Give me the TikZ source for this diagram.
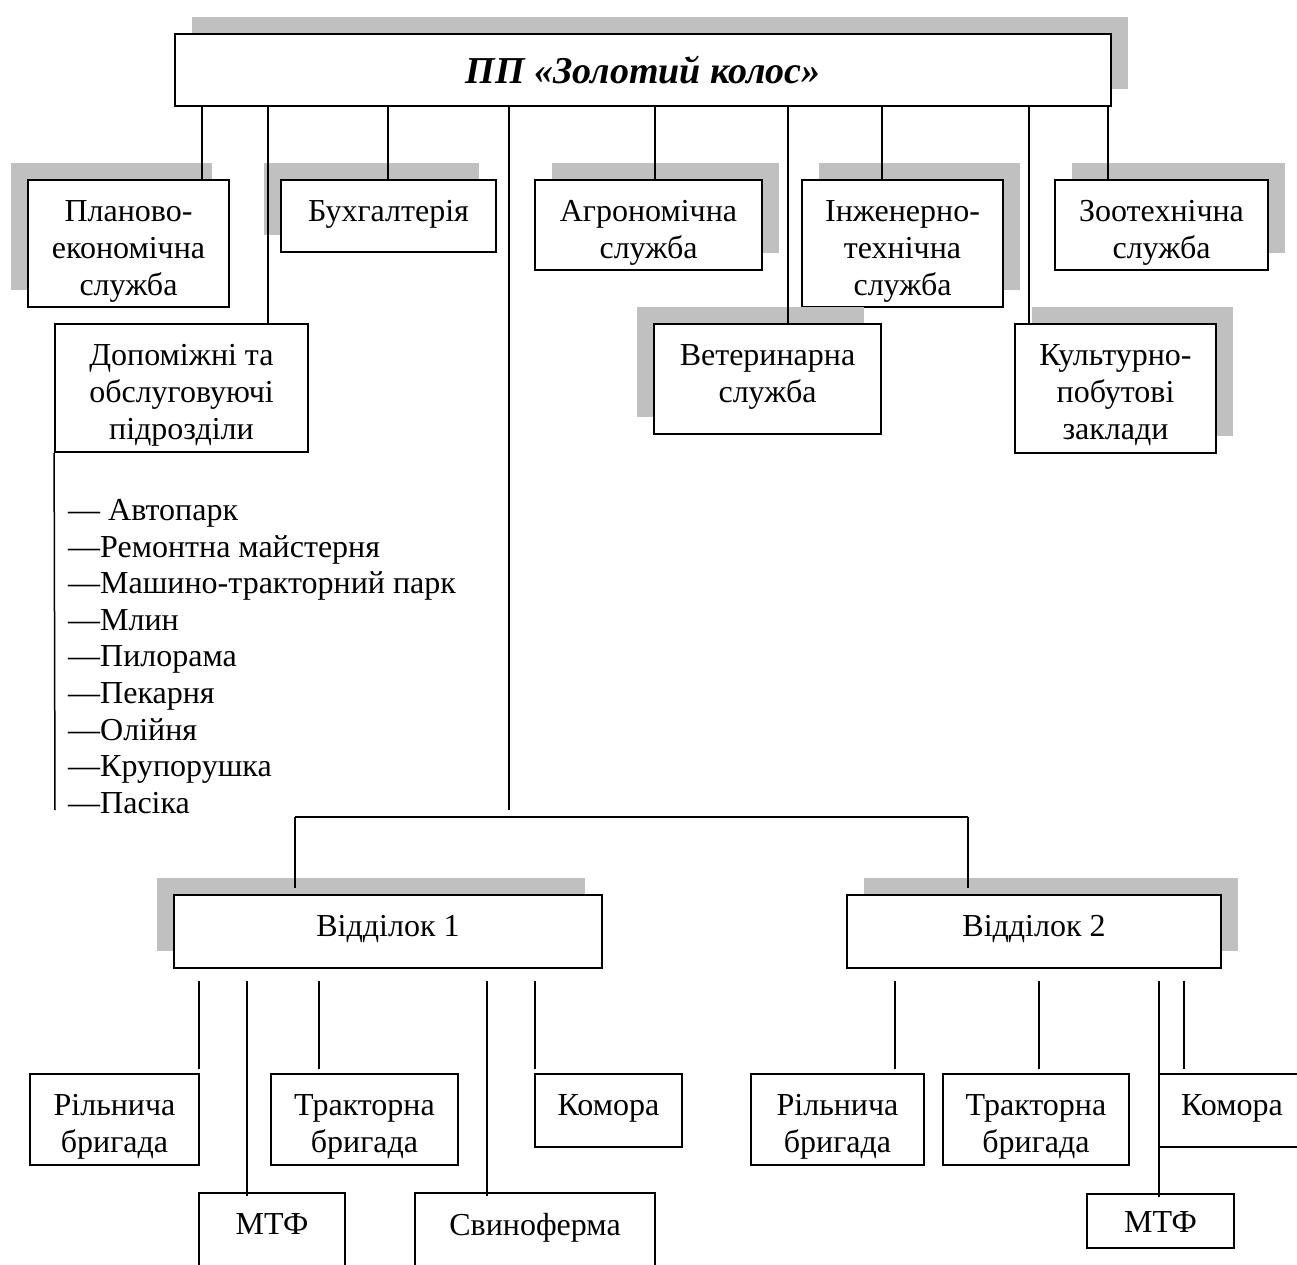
\documentclass[tikz,border=0pt]{standalone}
\usepackage{fontspec}
\setmainfont{Liberation Serif}
\usetikzlibrary{shadows}

\definecolor{shadowgray}{RGB}{192,192,192}

\tikzset{
  box/.style={draw, line width=1.8pt, fill=white, inner sep=0pt},
  boxtext/.style={anchor=north, align=center, inner sep=0pt, yshift=-21pt},
  shL/.style={drop shadow={shadow xshift=-17pt, shadow yshift=17pt, fill=shadowgray, opacity=1}},
  shR/.style={drop shadow={shadow xshift=17pt, shadow yshift=17pt, fill=shadowgray, opacity=1}},
  link/.style={line width=1.5pt}
}

\begin{document}
\begin{tikzpicture}[x=1pt, y=-1pt, font=\fontsize{32}{37.2}\selectfont]
            \useasboundingbox (0,0) rectangle (1297,1264);

            % top level
            \node[box, shR, minimum width=936pt, minimum height=72pt] (top) at (643,70)
                {\fontsize{38}{42}\selectfont\bfseries\itshape ПП «Золотий колос»};

            % services
            \node[box, shL, minimum width=201pt, minimum height=127pt, label={[boxtext]north:{Планово-\\економічна\\служба}}] (plan) at (128.5,243.5) {};
            \node[box, shL, minimum width=215pt, minimum height=72pt, label={[boxtext]north:{Бухгалтерія}}] (buh) at (388.5,216) {};
            \node[box, shR, minimum width=227pt, minimum height=90pt, label={[boxtext]north:{Агрономічна\\служба}}] (agro) at (648.5,225) {};
            \node[box, shR, minimum width=201pt, minimum height=127pt, label={[boxtext]north:{Інженерно-\\технічна\\служба}}] (inzh) at (902.5,243.5) {};
            \node[box, shR, minimum width=213pt, minimum height=90pt, label={[boxtext]north:{Зоотехнічна\\служба}}] (zoo) at (1161.5,225) {};
            \node[box, minimum width=253pt, minimum height=128pt, label={[boxtext]north:{Допоміжні та\\обслуговуючі\\підрозділи}}] (dop) at (181.5,388) {};
            \node[box, shL, minimum width=227pt, minimum height=110pt, label={[boxtext]north:{Ветеринарна\\служба}}] (vet) at (767.5,379) {};
            \node[box, shR, minimum width=201pt, minimum height=129pt, label={[boxtext]north:{Культурно-\\побутові\\заклади}}] (kult) at (1115.5,388.5) {};

            \node[anchor=west, align=left, inner sep=0pt, font=\fontsize{32}{36.6}\selectfont] (dlist) at (68,656.5)
                {— Автопарк\\—Ремонтна майстерня\\—Машино-тракторний парк\\—Млин\\—Пилорама\\—Пекарня\\—Олійня\\—Крупорушка\\—Пасіка};

            % departments
            \node[box, shL, minimum width=428pt, minimum height=73pt, label={[boxtext]north:{Відділок 1}}] (vid1) at (388,931.5) {};
            \node[box, shR, minimum width=374pt, minimum height=73pt, label={[boxtext]north:{Відділок 2}}] (vid2) at (1034,931.5) {};

            \node[box, minimum width=169pt, minimum height=91pt, label={[boxtext]north:{Рільнича\\бригада}}] (ril1) at (114.5,1119.5) {};
            \node[box, minimum width=187pt, minimum height=91pt, label={[boxtext]north:{Тракторна\\бригада}}] (trak1) at (364.5,1119.5) {};
            \node[box, minimum width=147pt, minimum height=73pt, label={[boxtext]north:{Комора}}] (kom1) at (608.5,1110.5) {};
            \node[box, minimum width=146pt, minimum height=73pt, label={[boxtext]north:{МТФ}}] (mtf1) at (272,1229.5) {};
            \node[box, minimum width=240pt, minimum height=73pt, label={[boxtext]north:{Свиноферма}}] (svyn) at (535,1229.5) {};

            \node[box, minimum width=173pt, minimum height=91pt, label={[boxtext]north:{Рільнича\\бригада}}] (ril2) at (837.5,1119.5) {};
            \node[box, minimum width=186pt, minimum height=91pt, label={[boxtext]north:{Тракторна\\бригада}}] (trak2) at (1036,1119.5) {};
            \node[box, minimum width=146pt, minimum height=73pt, label={[boxtext]north:{Комора}}] (kom2) at (1232,1110.5) {};
            \node[box, minimum width=147pt, minimum height=54pt, label={[boxtext, yshift=3pt]north:{МТФ}}] (mtf2) at (1160.5,1221) {};

            % links from the top box
            \draw[link] (top.south -| 202,0) -- (plan.north -| 202,0);
            \draw[link] (top.south -| 268,0) -- (dop.north -| 268,0);
            \draw[link] (top.south -| 388,0) -- (buh.north -| 388,0);
            \draw[link] (top.south -| 655,0) -- (agro.north -| 655,0);
            \draw[link] (top.south -| 788,0) -- (vet.north -| 788,0);
            \draw[link] (top.south -| 882,0) -- (inzh.north -| 882,0);
            \draw[link] (top.south -| 1029,0) -- (kult.north -| 1029,0);
            \draw[link] (top.south -| 1108,0) -- (zoo.north -| 1108,0);

            \coordinate (dend) at (55,810);
            \draw[link] (dop.south west) -- (dend);

            \coordinate (split) at (509,810);
            \coordinate (hl) at (295,817);
            \coordinate (hr) at (968,817);
            \draw[link] (top.south -| split) -- (split);
            \draw[link] (hl) -- (hr);
            \draw[link] (hl) -- ([yshift=6pt]vid1.north -| hl);
            \draw[link] (hr) -- ([yshift=6pt]vid2.north -| hr);

            % links of the departments
            \draw[link] ([yshift=-12pt]vid1.south -| 199,0) -- ([yshift=4pt]ril1.north -| 199,0);
            \draw[link] ([yshift=-12pt]vid1.south -| 247,0) -- ([yshift=-4pt]mtf1.north -| 247,0);
            \draw[link] ([yshift=-12pt]vid1.south -| 319,0) -- ([yshift=4pt]trak1.north -| 319,0);
            \draw[link] ([yshift=-12pt]vid1.south -| 487,0) -- ([yshift=-4pt]svyn.north -| 487,0);
            \draw[link] ([yshift=-12pt]vid1.south -| 535,0) -- ([yshift=4pt]kom1.north -| 535,0);

            \draw[link] ([yshift=-12pt]vid2.south -| 895,0) -- ([yshift=4pt]ril2.north -| 895,0);
            \draw[link] ([yshift=-12pt]vid2.south -| 1039,0) -- ([yshift=4pt]trak2.north -| 1039,0);
            \draw[link] ([yshift=-12pt]vid2.south -| 1159,0) -- ([yshift=-4pt]mtf2.north -| 1159,0);
            \draw[link] ([yshift=-12pt]vid2.south -| 1184,0) -- ([yshift=4pt]kom2.north -| 1184,0);
        \end{tikzpicture}
\end{document}
